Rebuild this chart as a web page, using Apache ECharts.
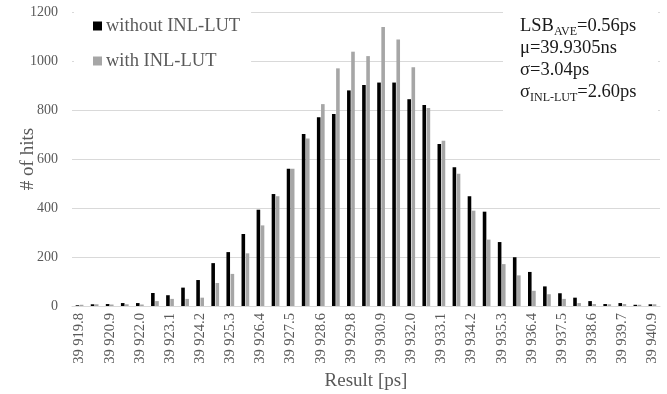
<!DOCTYPE html>
<html><head><meta charset="utf-8">
<script src="https://cdn.jsdelivr.net/npm/echarts@6/dist/echarts.min.js"></script>
<style>html,body{margin:0;padding:0;background:#fff}#c{width:667px;height:394px}</style>
</head><body><div id="c"></div>
<script>
const categories = ["39 919.8","39 920.4","39 920.9","39 921.5","39 922.0","39 922.6","39 923.1","39 923.7","39 924.2","39 924.8","39 925.3","39 925.9","39 926.4","39 927.0","39 927.5","39 928.1","39 928.6","39 929.2","39 929.8","39 930.3","39 930.9","39 931.4","39 932.0","39 932.5","39 933.1","39 933.6","39 934.2","39 934.7","39 935.3","39 935.8","39 936.4","39 936.9","39 937.5","39 938.1","39 938.6","39 939.2","39 939.7","39 940.3","39 940.9"];
const withoutLUT = [3, 7, 8, 12, 12, 53, 44, 75, 106, 175, 220, 294, 393, 457, 560, 702, 770, 784, 880, 902, 912, 912, 844, 820, 661, 566, 448, 385, 261, 199, 139, 80, 52, 34, 20, 8, 12, 5, 7];
const withLUT = [5, 7, 6, 7, 6, 20, 29, 29, 34, 94, 131, 215, 329, 448, 560, 684, 824, 970, 1038, 1020, 1139, 1088, 974, 808, 675, 540, 389, 271, 171, 125, 62, 48, 29, 12, 8, 7, 8, 5, 7];
const yMin = 0, yMax = 1200, yStep = 200;
const seriesNames = ["without INL-LUT", "with INL-LUT"];

const FONT = '"Liberation Serif", "Times New Roman", serif';
const chart = echarts.init(document.getElementById('c'), null, {renderer: 'canvas'});
chart.setOption({
  animation: false,
  backgroundColor: '#ffffff',
  textStyle: {fontFamily: FONT},
  grid: {left: 72, right: 7, top: 12, bottom: 88, containLabel: false, outerBoundsMode: 'none'},
  legend: {
    orient: 'vertical', left: 74, top: 4,
    padding: [12, 11, 14, 19],
    backgroundColor: '#ffffff',
    itemWidth: 9, itemHeight: 9, itemGap: 15,
    icon: 'rect',
    textStyle: {fontFamily: FONT, fontSize: 18.5, color: '#595959', lineHeight: 20, padding: [0, 0, 0, -1]},
    data: seriesNames
  },
  xAxis: {
    type: 'category', data: categories,
    axisTick: {show: false},
    axisLine: {lineStyle: {color: '#d9d9d9', width: 1}},
    axisLabel: {rotate: 90, interval: 1, fontFamily: FONT, fontSize: 14.5, color: '#595959', margin: 7},
    name: 'Result [ps]', nameLocation: 'middle', nameGap: 66, nameMoveOverlap: false,
    nameTextStyle: {fontFamily: FONT, fontSize: 19, color: '#595959'}
  },
  yAxis: {
    type: 'value', min: yMin, max: yMax, interval: yStep,
    axisLine: {show: false}, axisTick: {show: false},
    splitLine: {lineStyle: {color: '#d9d9d9', width: 1}},
    axisLabel: {fontFamily: FONT, fontSize: 14, color: '#595959', margin: 14, formatter: function (v) { return String(v); }},
    name: '# of hits', nameLocation: 'middle', nameGap: 34, nameRotate: 90, nameMoveOverlap: false,
    nameTextStyle: {fontFamily: FONT, fontSize: 19, color: '#595959'}
  },
  series: [
    {name: seriesNames[0], type: 'bar', data: withoutLUT, barWidth: 3.6, barGap: '15%', itemStyle: {color: '#000000'}},
    {name: seriesNames[1], type: 'bar', data: withLUT, barWidth: 3.6, itemStyle: {color: '#a6a6a6'}}
  ],
  graphic: [
    {type: 'rect', left: 503, top: 0, z: 50, shape: {width: 155, height: 113}, style: {fill: '#ffffff'}},
    {type: 'text', left: 520, top: 17, z: 51,
     style: {
       text: '{m|LSB}{s|AVE}{m|=0.56ps}\n{m|μ=39.9305ns}\n{m|σ=3.04ps}\n{m|σ}{s|INL-LUT}{m|=2.60ps}',
       fill: '#1a1a1a',
       font: '18.5px ' + FONT,
       rich: {
         m: {fontFamily: FONT, fontSize: 18.5, lineHeight: 22, fill: '#1a1a1a', color: '#1a1a1a'},
         s: {fontFamily: FONT, fontSize: 12, lineHeight: 12, verticalAlign: 'bottom', fill: '#1a1a1a', color: '#1a1a1a'}
       }
     }}
  ]
});
</script></body></html>
